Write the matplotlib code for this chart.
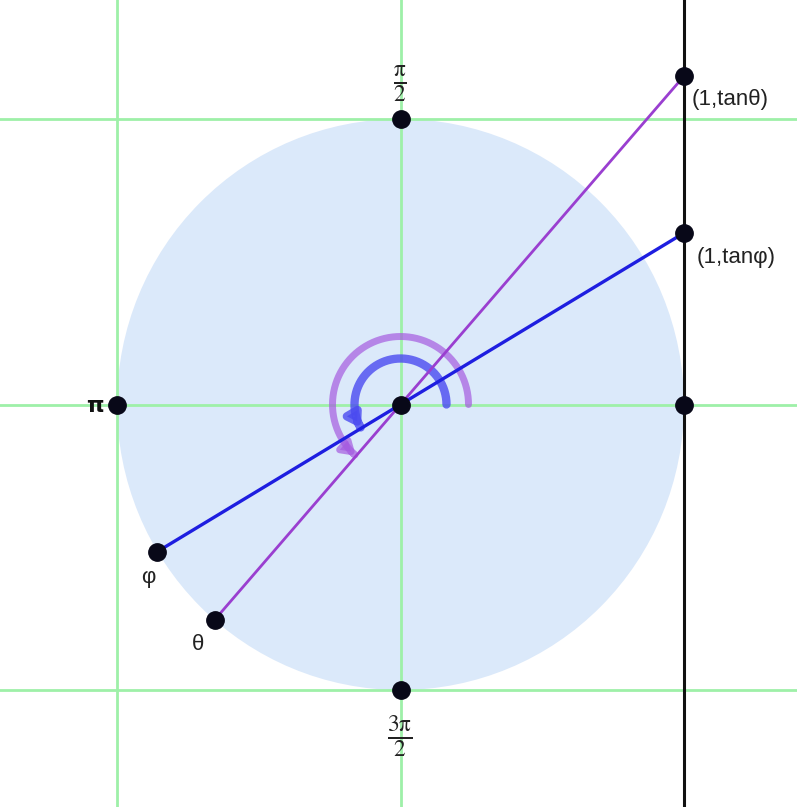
import numpy as np
import matplotlib
matplotlib.use("Agg")
import matplotlib.pyplot as plt
from matplotlib.patches import Circle, FancyArrowPatch
from matplotlib.path import Path

# data
theta_deg = 229.0
phi_deg = 211.0
axis_ticks = [-1, 0, 1]
tick_labels = {"top": r"$\frac{\mathrm{π}}{2}$", "left": "π", "bottom": r"$\frac{3\mathrm{π}}{2}$"}
point_labels = ["θ", "φ"]
tan_labels = ["(1,tanθ)", "(1,tanφ)"]

plt.rcParams["font.family"] = ["Liberation Sans", "DejaVu Sans"]
plt.rcParams["mathtext.fontset"] = "stix"

W, H = 797, 807
fig = plt.figure(figsize=(W / 100, H / 100), dpi=100)
ax = fig.add_axes([0, 0, 1, 1])
sx, sy = 283.5, 285.5
cx, cy = 400.5, 404.5
ax.set_xlim(-cx / sx, (W - cx) / sx)
ax.set_ylim(-(H - cy) / sy, cy / sy)
ax.axis("off")

# unit circle fill
ax.add_patch(Circle((0, 0), 1, facecolor="#dbe9fa", edgecolor="none", zorder=1))

green = "#9ef0a8"
for v in axis_ticks:
    ax.axvline(v, color=green, lw=2, zorder=2)
    ax.axhline(v, color=green, lw=2, zorder=2)
ax.axvline(1.0, color="#111111", lw=2.2, zorder=3)

th = np.radians(theta_deg)
ph = np.radians(phi_deg)

# arcs with arrows
def arc(r, a_end, color, lw, alpha, hl, hw):
    t = np.linspace(0, a_end, 200)
    verts = np.column_stack([r / sx * np.cos(t), r / sy * np.sin(t)])
    p = Path(verts)
    arr = FancyArrowPatch(path=p, arrowstyle=f"-|>,head_length={hl},head_width={hw}",
                          color=color, lw=lw, alpha=alpha, zorder=4,
                          mutation_scale=10)
    ax.add_patch(arr)

arc(68, th, "#a55be0", 5.0, 0.7, 0.7, 0.45)
arc(46, ph, "#4a4af0", 6.0, 0.8, 0.7, 0.45)

# lines
ax.plot([np.cos(th), 1], [np.sin(th), np.tan(th)], color="#9a3fd0", lw=2, zorder=5)
ax.plot([np.cos(ph), 1], [np.sin(ph), np.tan(ph)], color="#1e1ee0", lw=2.4, zorder=5)

# points
px = [0, 0, -1, 0, 1, np.cos(th), np.cos(ph), 1, 1]
py = [0, 1, 0, -1, 0, np.sin(th), np.sin(ph), np.tan(th), np.tan(ph)]
ax.plot(px, py, "o", color="#080818", ms=12.5, zorder=6)

def pxl(x, y):
    return ((x - cx) / sx, (cy - y) / sy)

fs = 16
tc = "#222222"
ax.text(*pxl(400, 84), tick_labels["top"], ha="center", va="center", fontsize=24, color=tc)
ax.text(*pxl(400, 737), tick_labels["bottom"], ha="center", va="center", fontsize=24, color=tc)
ax.text(*pxl(95, 406), tick_labels["left"], ha="center", va="center", fontsize=16,
        color="#111111", family=["DejaVu Sans"], fontweight="bold")
ax.text(*pxl(198, 645), point_labels[0], ha="center", va="center", fontsize=fs, color=tc)
ax.text(*pxl(148, 578), point_labels[1], ha="center", va="center", fontsize=fs, color=tc)
ax.text(*pxl(692, 99), tan_labels[0], ha="left", va="center", fontsize=fs, color=tc)
ax.text(*pxl(697, 257), tan_labels[1], ha="left", va="center", fontsize=fs, color=tc)

fig.savefig("out.png", dpi=100)
